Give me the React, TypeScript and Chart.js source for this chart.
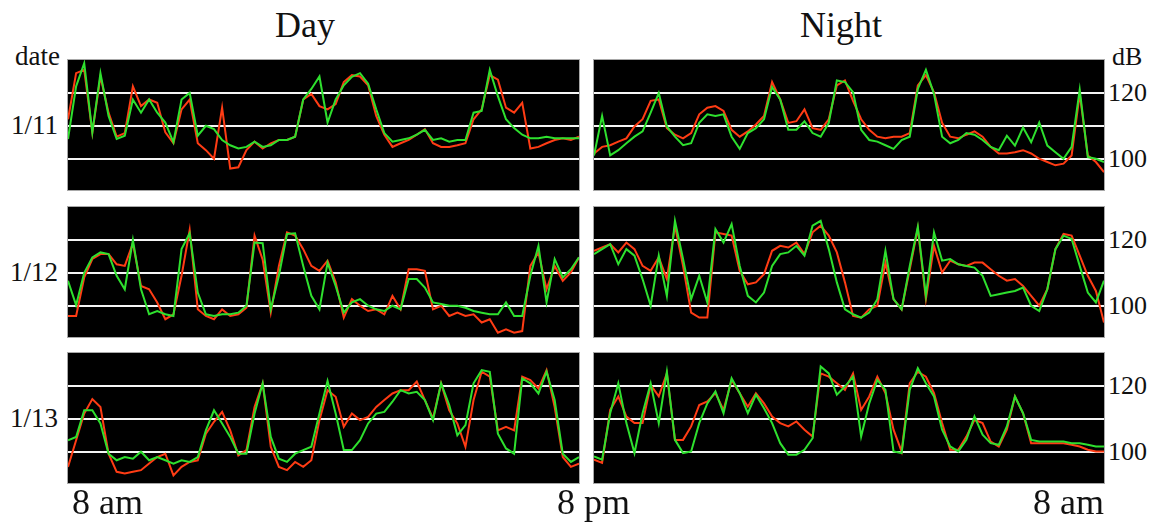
import React, { useEffect, useRef } from "react";
import { Chart, registerables } from "chart.js";
Chart.register(...registerables);

// ---------- text / tick data ----------
const dates = ["1/11", "1/12", "1/13"];
const periods = ["Day", "Night"];
const timeLabels = ["8 am", "8 pm", "8 am"];
const dbTickLabels = [120, 100];
const gridValues = [100, 110, 120];
const yMin = 90.5;
const yMax = 130;

// ---------- series (dB), sampled evenly over each 12 h panel ----------
const day11Green = [106, 122, 129, 108, 126, 113, 106, 107, 118, 114, 118, 114, 111, 105, 118, 120,
  107, 110, 109, 105.7, 104.1, 103.1, 103.6, 105.2, 103.6, 104.1, 105.7, 105.7, 106.7, 118, 121.2, 125,
  111, 118, 122.3, 124.9, 126, 122.8, 115, 107.8, 105.2, 105.7, 106.2, 107.3, 108.8, 105.7, 106.2, 105.2,
  105.7, 105.7, 114, 114.5, 127, 119, 112, 109.3, 107.3, 106.2, 106.2, 106.7, 106.2, 106.2, 106.2, 106.2];
const day11Red = [112, 126, 127, 108, 125, 114, 106.7, 107.8, 122, 116, 118, 117, 108, 104.7, 115, 118,
  104.7, 102.6, 100, 115.5, 97, 97.4, 102.6, 105.2, 103.1, 104.7, 105.7, 105.7, 106.7, 118, 119.7, 116,
  115, 116.6, 123.3, 125.4, 125, 122.3, 113, 107.3, 103.6, 104.7, 105.7, 107.3, 109, 104.7, 103.6, 103.6,
  104.1, 104.7, 112, 115, 125.4, 124, 115.5, 114, 117, 103.1, 103.6, 104.7, 105.7, 106.2, 105.7, 106.7];

const night11Green = [101, 113, 101, 102.6, 104.7, 106.7, 108.3, 114, 120, 109.8, 106.7, 104.1, 104.7, 110.9, 113.5, 113,
  113.5, 106.7, 103, 107.8, 109.3, 112, 121.8, 118, 108.8, 108.8, 111.4, 107.8, 106.7, 110.9, 123.8, 123.3,
  120.2, 108.8, 105.7, 105.2, 104.1, 103, 105.7, 106.7, 121.2, 127, 119.7, 106.7, 104.7, 105.7, 107.8, 107.3,
  105.7, 103.6, 102.6, 107, 104, 109.5, 105, 111, 104, 102, 100, 103.6, 121, 100.5, 100, 99];
const night11Red = [101.6, 103.6, 104.1, 105.2, 106.2, 109.8, 112, 117.6, 118, 109.3, 107.3, 106.2, 107.8, 113.5, 115.5, 116,
  114.5, 108.8, 106.7, 108.3, 110.4, 113, 123.3, 118, 110.9, 111.4, 115, 109.3, 108.8, 112, 122.3, 123.8,
  117.6, 112, 108.8, 106.7, 106.2, 106.7, 106.7, 107.8, 122.3, 125.4, 120.2, 110.9, 106.7, 106.2, 107.3, 108.3,
  106.7, 103.6, 101.6, 101.6, 102, 102.6, 101.6, 100, 99, 98, 98.5, 101, 119.7, 101, 99, 95.9];

const day12Green = [107.6, 100.2, 110, 114.7, 116.2, 115.7, 109.1, 105, 120, 105, 97.4, 98.4, 97.4, 96.9, 117.2, 122,
  104, 97.4, 96.9, 97.4, 97.4, 97.9, 100, 119.2, 119, 98.9, 109.1, 121.8, 122, 112.1, 103, 98.9,
  113.1, 106, 97.9, 101, 102, 100, 98.9, 98.4, 100, 98.9, 108.1, 108.1, 105.5, 101, 100.5, 100,
  100, 99.4, 98.4, 97.9, 97.4, 97.4, 101, 96.9, 96.9, 109.1, 118.2, 101, 114.2, 108.6, 111.1, 114.7];
const day12Red = [96.9, 96.9, 108.6, 114.2, 115.7, 115.7, 112.6, 112.1, 119, 106, 105, 101, 95.9, 97.4, 109.1, 123,
  98.9, 96.9, 95.9, 98.9, 96.9, 97.4, 99.4, 121.3, 114, 97.9, 112.1, 122.3, 121.3, 117.2, 112.1, 110.6,
  113.7, 107.1, 96.4, 102, 100, 98.4, 98.9, 97.4, 103, 98.9, 111.1, 111.1, 110.6, 98.9, 100, 96.9,
  97.9, 96.9, 97.4, 94.9, 95.9, 91.8, 92.8, 91.8, 92.3, 112.1, 116.2, 105, 112.1, 107.6, 110.1, 114.7];

const night12Green = [115.7, 117.2, 118.7, 112.6, 117.2, 115.2, 108.1, 100, 115.2, 103, 125.8, 114.2, 102, 109.1, 101, 123.3,
  119.2, 124.8, 112.1, 103, 101, 104, 112.1, 115.7, 116.2, 118.2, 115.2, 124.3, 125.8, 117.2, 107.1, 98.9,
  97.4, 96.4, 97.9, 102, 116.7, 102, 98.9, 112, 124, 103, 122.3, 113.7, 114.2, 112.6, 112.1, 111.6,
  109.1, 103, 103.5, 104, 104.5, 105.5, 100, 98.4, 105, 117.2, 121.3, 120.3, 112.1, 104, 101, 107.6];
const night12Red = [116.7, 117.7, 118.7, 116.2, 119.2, 117.2, 112.1, 110.6, 114.7, 108.1, 124.3, 112.1, 97.9, 96.4, 96.4, 122.3,
  121.8, 121.3, 110.6, 106.5, 107.1, 109.6, 116.7, 118.2, 117.7, 119.2, 115.7, 122.3, 124.3, 121.3, 116.2, 107.1,
  96.9, 96.4, 98.9, 100, 113.1, 102, 98.9, 111, 123.5, 102, 118.2, 110.1, 113.7, 112.6, 112.1, 113.1,
  113.1, 111.1, 109.1, 107.6, 108.1, 106, 103, 100, 105, 117.2, 121.8, 121.3, 115.2, 109.1, 104.5, 94.9];

const day13Green = [103.5, 104.5, 112.6, 112.6, 108.6, 99.4, 97.4, 98.4, 97.9, 100, 97.4, 98.4, 97.4, 96.4, 97.4, 96.9,
  98.4, 106.5, 112.6, 108.6, 104.5, 99.4, 99.4, 111.6, 120.8, 104.5, 97.9, 96.9, 99.4, 100.5, 101.5, 111.6,
  121.5, 111.6, 100.5, 100.5, 103.5, 108.6, 111.6, 112.1, 115.2, 118.7, 117.7, 118.2, 115.7, 109.6, 120.8, 114.2,
  105, 108.1, 120.8, 124.8, 124.3, 105.5, 101, 99.4, 122.3, 120.8, 117.7, 124.3, 115.7, 99.4, 96.9, 98.4];
const day13Red = [95.4, 103.5, 111.6, 116, 113.6, 99.4, 93.9, 93.4, 93.9, 94.4, 96.4, 98.4, 99.4, 92.8, 95.4, 96.9,
  97.4, 105.5, 109.1, 112.1, 106.5, 98.9, 100.5, 113.6, 120.8, 101.5, 95.4, 94.4, 96.9, 95.4, 97.4, 109.6,
  118.7, 116.7, 107.6, 111.6, 109.6, 110.6, 113.6, 115.7, 117.7, 118.7, 118.7, 121.3, 115.7, 110.1, 120.8, 112.6,
  108.6, 101.5, 115.7, 124.3, 122.8, 106.5, 107.6, 106.5, 122.8, 121.8, 119.2, 124.8, 113.6, 98.4, 95.4, 96.4];

const night13Green = [98.6, 97.6, 111.7, 120.8, 108.7, 99.6, 111.7, 120.8, 108.7, 124.3, 103.6, 99.6, 100.1, 108.7, 114.7, 118.3,
  111.7, 122.3, 117.8, 111.7, 117.3, 113.2, 108.7, 102.6, 99.1, 99.1, 100.6, 104.1, 125.9, 123.8, 117.3, 119.8,
  122.8, 104.6, 114.7, 121.8, 118.8, 100.1, 99.6, 118.8, 125.4, 120.8, 116.8, 106.7, 101.6, 100.1, 103.6, 110.7,
  105.2, 102.6, 102.1, 107.7, 116.8, 111.7, 103.6, 103.1, 103.1, 103.1, 103.1, 102.6, 102.6, 102.1, 101.6, 101.6];
const night13Red = [97.6, 96.6, 112.7, 116.8, 110.7, 108.7, 108.7, 120.3, 116.8, 123.8, 103.6, 103.6, 107.7, 114.2, 115.3, 117.8,
  112.7, 121.8, 117.8, 113.7, 117.8, 114.7, 110.7, 108.7, 107.7, 109.2, 106.7, 104.6, 123.8, 122.8, 120.8, 118.8,
  123.8, 112.7, 116.8, 122.8, 117.8, 106.7, 100.1, 120.8, 124.3, 122.8, 117.8, 108.7, 100.6, 100.6, 104.6, 109.7,
  108.7, 103.1, 101.6, 106.7, 116.8, 111.7, 102.6, 102.6, 102.6, 102.6, 102.6, 102.1, 101.6, 100.6, 100.1, 100.1];

const panelSeries = [
  [day11Green, day11Red, night11Green, night11Red],
  [day12Green, day12Red, night12Green, night12Red],
  [day13Green, day13Red, night13Green, night13Red],
];

// ---------- layout / style ----------
const W = 1154;
const H = 523;
const colLeft = [68, 594];
const colWidth = [511, 510];
const rowTop = [60, 207, 353];
const panelH = 130;
const GREEN = "#2ee02e";
const RED = "#ff3c14";
const FONT = '"Liberation Serif", "Times New Roman", serif';

const valueToY = (row: number, v: number) => rowTop[row] + ((yMax - v) / (yMax - yMin)) * panelH;

function Panel({ green, red, left, top, width, height }: any) {
  const ref = useRef<HTMLCanvasElement>(null);
  useEffect(() => {
    const chart = new Chart(ref.current as HTMLCanvasElement, {
      type: "line",
      data: {
        labels: green.map((_: number, i: number) => i),
        datasets: [
          { data: green, borderColor: GREEN, borderWidth: 2, pointRadius: 0, tension: 0, fill: false },
          { data: red, borderColor: RED, borderWidth: 2, pointRadius: 0, tension: 0, fill: false },
        ],
      },
      options: {
        animation: false,
        responsive: false,
        maintainAspectRatio: false,
        events: [],
        layout: { padding: 0 },
        plugins: { legend: { display: false }, tooltip: { enabled: false }, title: { display: false } },
        scales: {
          x: { type: "category", display: false, offset: false },
          y: {
            min: yMin,
            max: yMax,
            z: 1,
            border: { display: false },
            ticks: { display: false },
            grid: { color: "#f4f4f4", lineWidth: 2, drawTicks: false },
            afterBuildTicks: (axis: any) => {
              axis.ticks = gridValues.map((v) => ({ value: v }));
            },
          },
        },
      },
    } as any);
    return () => chart.destroy();
  }, []);
  return (
    <div
      style={{
        position: "absolute",
        left,
        top,
        width,
        height,
        background: "#000",
        boxShadow: "0 0 0 1px #a8a8a8",
      }}
    >
      <canvas ref={ref} width={width} height={height} style={{ display: "block", width, height }} />
    </div>
  );
}

const txt = (fs: number): React.CSSProperties => ({
  position: "absolute",
  fontFamily: FONT,
  fontSize: fs,
  lineHeight: `${fs}px`,
  color: "#111",
  whiteSpace: "nowrap",
});

export default function App() {
  return (
    <div style={{ position: "fixed", left: 0, top: 0, width: W, height: H, background: "#fff", overflow: "hidden" }}>
      {periods.map((p, c) => (
        <div key={p} style={{ ...txt(36), left: [305, 841][c], top: 7, transform: "translateX(-50%)" }}>
          {p}
        </div>
      ))}
      <div style={{ ...txt(27), left: 15, top: 43 }}>date</div>
      <div style={{ ...txt(26), left: 1112, top: 44 }}>dB</div>
      {dates.map((d, r) => (
        <div key={d} style={{ ...txt(27), left: 0, width: 58, textAlign: "right", top: valueToY(r, 110) - 13.5 }}>
          {d}
        </div>
      ))}
      {dates.map((_, r) =>
        dbTickLabels.map((t) => (
          <div key={`${r}-${t}`} style={{ ...txt(26), left: 1108, top: valueToY(r, t) - 13 }}>
            {t}
          </div>
        ))
      )}
      {panelSeries.map((s, r) =>
        [0, 1].map((c) => (
          <Panel
            key={`${r}-${c}`}
            green={s[c * 2]}
            red={s[c * 2 + 1]}
            left={colLeft[c]}
            top={rowTop[r]}
            width={colWidth[c]}
            height={panelH}
          />
        ))
      )}
      <div style={{ ...txt(36), left: 72, top: 484 }}>{timeLabels[0]}</div>
      <div style={{ ...txt(36), left: 557, top: 484 }}>{timeLabels[1]}</div>
      <div style={{ ...txt(36), left: 1104, top: 484, transform: "translateX(-100%)" }}>{timeLabels[2]}</div>
    </div>
  );
}
